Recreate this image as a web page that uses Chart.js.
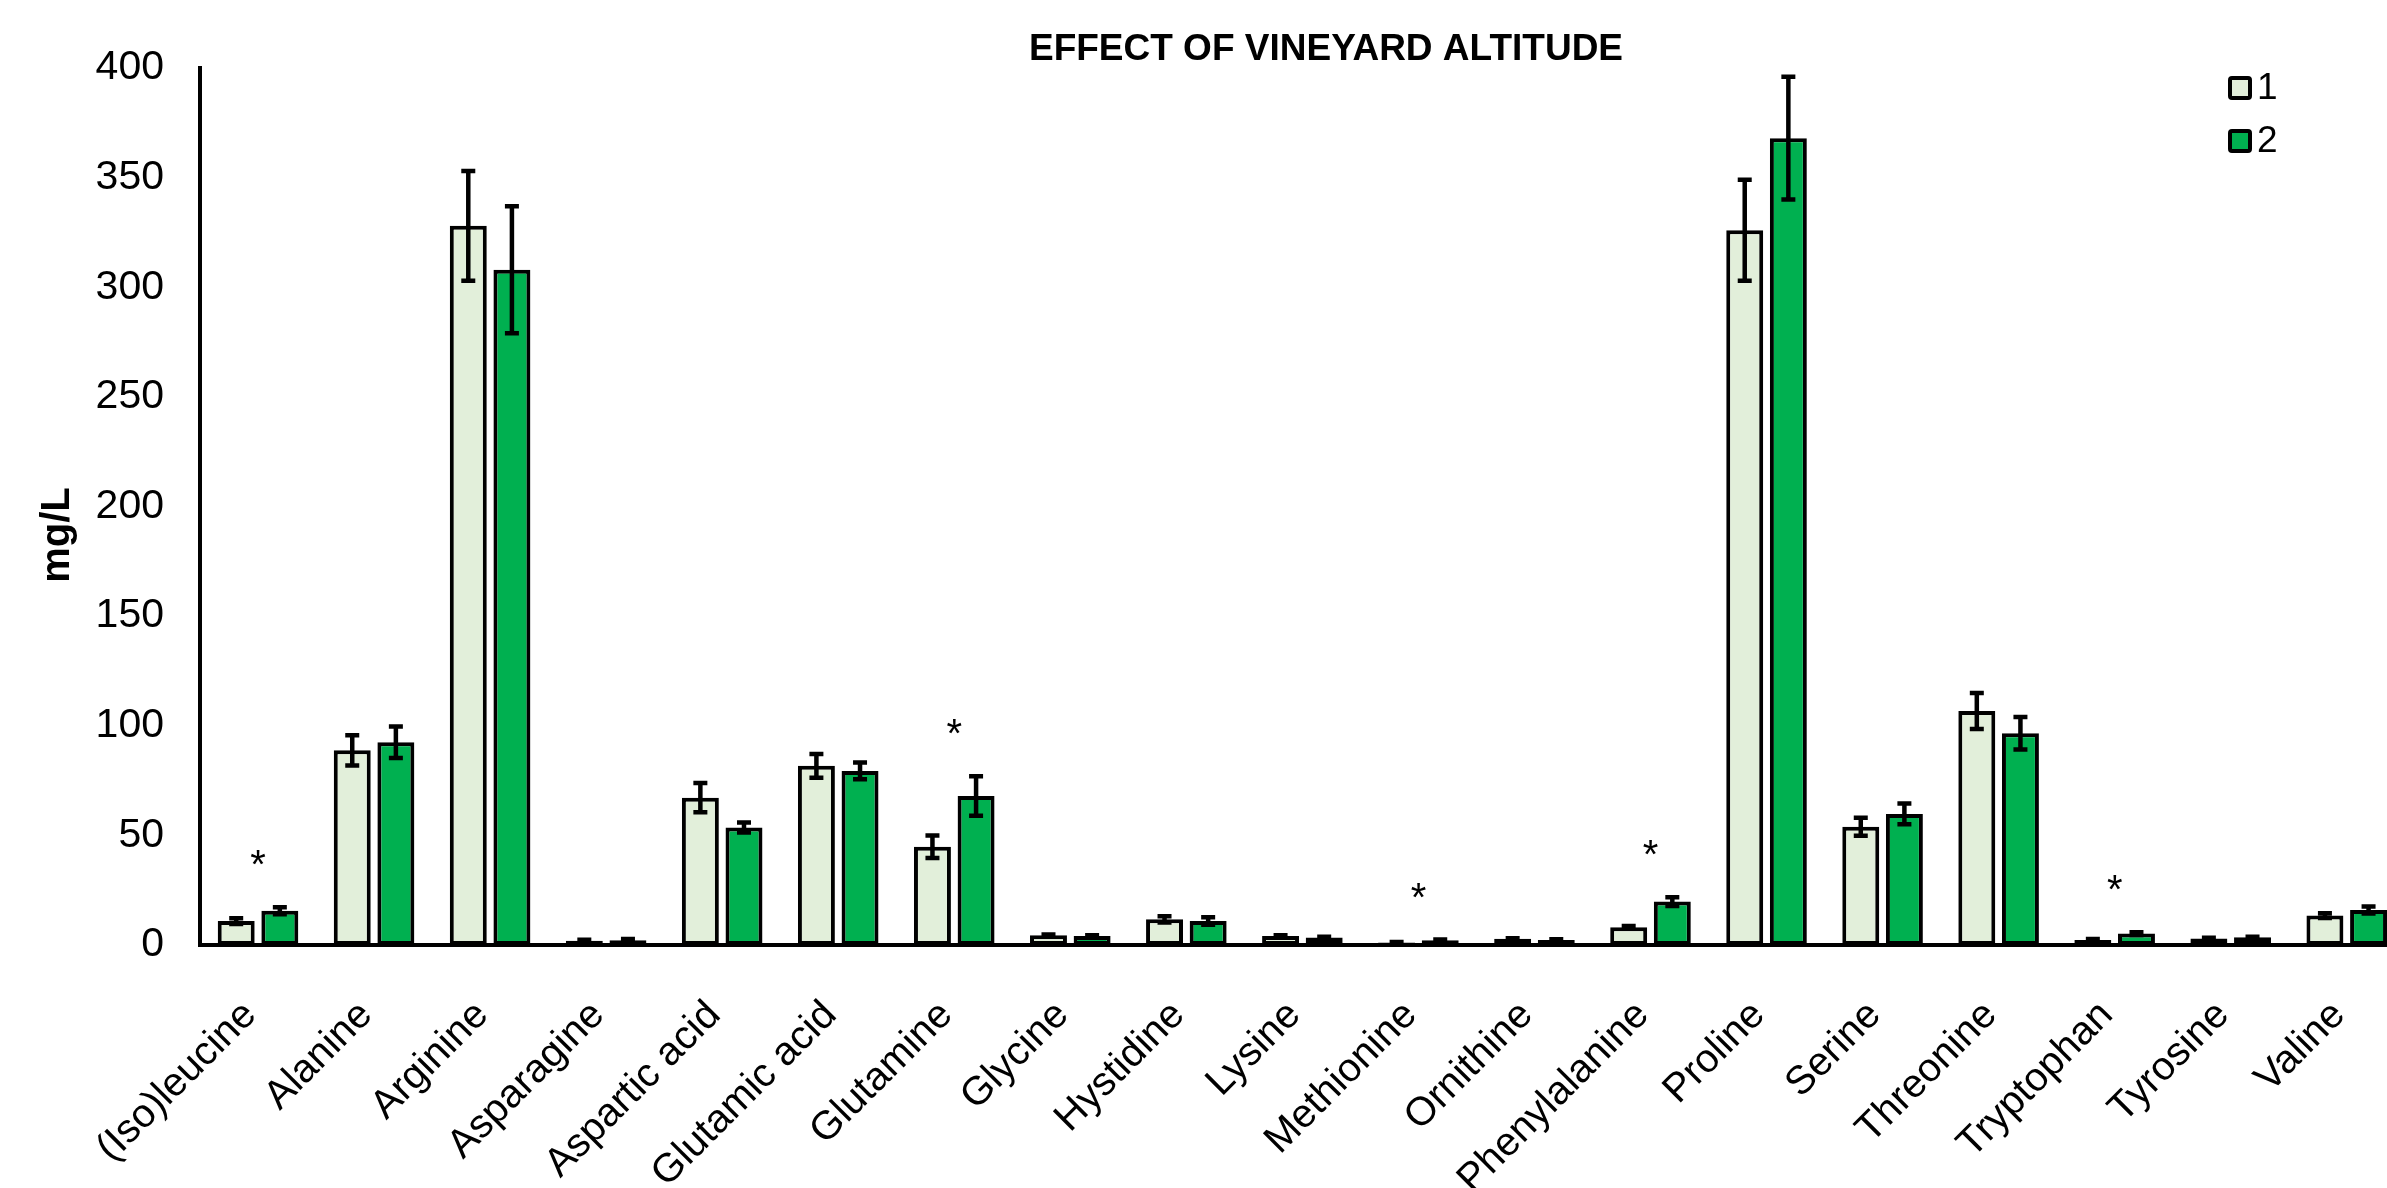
<!DOCTYPE html>
<html>
<head>
<meta charset="utf-8">
<script src="https://cdn.jsdelivr.net/npm/chart.js@4/dist/chart.umd.min.js"></script>
<style>
  html, body { margin: 0; padding: 0; overflow: hidden; background: #ffffff; }
  canvas { display: block; }
</style>
</head>
<body>
<canvas id="chart" width="2420" height="1188"></canvas>
<script>
// Amino acid concentrations (mg/L) for the two vineyard altitudes
const categories = [
  '(Iso)leucine', 'Alanine', 'Arginine', 'Asparagine', 'Aspartic acid',
  'Glutamic acid', 'Glutamine', 'Glycine', 'Hystidine', 'Lysine',
  'Methionine', 'Ornithine', 'Phenylalanine', 'Proline', 'Serine',
  'Threonine', 'Tryptophan', 'Tyrosine', 'Valine'
];
const seriesLabels = ['1', '2'];
const altitude1 = [10.9, 88.8, 328, 1.9, 67.2, 81.7, 44.8, 4.4, 11.7, 4.1, 1.1, 2.8, 8.1, 326, 53.9, 106.7, 2.3, 3.0, 13.4];
const altitude2 = [15.6, 92.5, 308, 2.2, 53.6, 79.4, 68.0, 4.1, 10.9, 3.4, 2.2, 2.3, 19.8, 368, 59.8, 96.6, 5.2, 3.5, 16.0];
const sd1 = [1.3, 6.9, 25, 0.5, 6.7, 5.4, 5.1, 0.4, 1.4, 0.4, 0.3, 0.3, 0.6, 23, 4.1, 8.2, 0.4, 0.3, 1.1];
const sd2 = [1.6, 7.2, 29, 0.5, 2.3, 3.8, 9.0, 0.4, 1.7, 0.4, 0.3, 0.3, 2.0, 28, 4.7, 7.4, 0.6, 0.3, 1.6];
// Amino acids with a significant difference between altitudes
const significant = ['(Iso)leucine', 'Glutamine', 'Methionine', 'Phenylalanine', 'Tryptophan'];
const yMin = 0, yMax = 400, yStep = 50;
const chartTitle = 'EFFECT OF VINEYARD ALTITUDE';
const yAxisTitle = 'mg/L';

const FONT = "'Liberation Sans', Arial, Helvetica, sans-serif";
const LIGHT = '#E2EFDA';
const GREEN = '#00B050';

// Vertical error bars (± SD) on top of each bar
const errorBars = {
  id: 'errorBars',
  afterDatasetsDraw(chart) {
    const ctx = chart.ctx;
    const y = chart.scales.y;
    ctx.save();
    ctx.strokeStyle = '#000';
    ctx.lineWidth = 4.5;
    chart.data.datasets.forEach((ds, di) => {
      chart.getDatasetMeta(di).data.forEach((bar, i) => {
        const v = ds.data[i], e = ds.errors[i];
        const x = bar.x;
        const yt = y.getPixelForValue(v + e);
        const yb = y.getPixelForValue(v - e);
        ctx.beginPath();
        ctx.moveTo(x, yt); ctx.lineTo(x, yb);
        ctx.moveTo(x - 7, yt); ctx.lineTo(x + 7, yt);
        ctx.moveTo(x - 7, yb); ctx.lineTo(x + 7, yb);
        ctx.stroke();
      });
    });
    ctx.restore();
  }
};

// Asterisks above significantly different pairs
const significance = {
  id: 'significance',
  afterDatasetsDraw(chart) {
    const ctx = chart.ctx;
    const x = chart.scales.x, y = chart.scales.y;
    ctx.save();
    ctx.fillStyle = '#000';
    ctx.font = '40px ' + FONT;
    ctx.textAlign = 'center';
    ctx.textBaseline = 'alphabetic';
    significant.forEach(name => {
      const i = categories.indexOf(name);
      const top = Math.max(...chart.data.datasets.map(ds => ds.data[i] + ds.errors[i]));
      ctx.fillText('*', x.getPixelForValue(i), y.getPixelForValue(top) - 29);
    });
    ctx.restore();
  }
};

// Chart title, vertical axis title and legend
const annotations = {
  id: 'annotations',
  afterDraw(chart) {
    const ctx = chart.ctx;
    ctx.save();
    ctx.fillStyle = '#000';
    ctx.textAlign = 'center';
    ctx.textBaseline = 'middle';
    ctx.font = 'bold 37px ' + FONT;
    ctx.fillText(chartTitle, 1326, 50);

    ctx.save();
    ctx.translate(58, 535);
    ctx.rotate(-Math.PI / 2);
    ctx.font = 'bold 40px ' + FONT;
    ctx.fillText(yAxisTitle, 0, 0);
    ctx.restore();

    ctx.font = '37px ' + FONT;
    ctx.textAlign = 'left';
    chart.data.datasets.forEach((ds, i) => {
      const cy = 88 + i * 53;
      ctx.fillStyle = ds.backgroundColor;
      ctx.strokeStyle = '#000';
      ctx.lineWidth = 4;
      ctx.beginPath();
      ctx.roundRect(2230, cy - 10, 20, 20, 2);
      ctx.fill();
      ctx.stroke();
      ctx.fillStyle = '#000';
      ctx.fillText(ds.label, 2257, cy + 1);
    });
    ctx.restore();
  }
};

const tickFont = { family: FONT, size: 40 };

new Chart(document.getElementById('chart'), {
  type: 'bar',
  data: {
    labels: categories,
    datasets: [
      { label: seriesLabels[0], data: altitude1, errors: sd1, backgroundColor: LIGHT,
        borderColor: '#000', borderWidth: 4, borderSkipped: false },
      { label: seriesLabels[1], data: altitude2, errors: sd2, backgroundColor: GREEN,
        borderColor: '#000', borderWidth: 4, borderSkipped: false }
    ]
  },
  options: {
    responsive: false,
    animation: false,
    categoryPercentage: 0.752,
    barPercentage: 0.847,
    layout: { padding: { left: 0, right: 12, top: 68, bottom: 0 } },
    plugins: {
      legend: { display: false },
      tooltip: { enabled: false },
      title: { display: false }
    },
    scales: {
      x: {
        grid: { display: false, drawTicks: false },
        border: { display: true, color: '#000', width: 4 },
        ticks: {
          autoSkip: false,
          minRotation: 45,
          maxRotation: 45,
          padding: 39,
          color: '#000',
          font: tickFont,
          callback: (v, i) => categories[i] + ' '
        },
        afterFit(scale) { scale.height = 243; }
      },
      y: {
        min: yMin,
        max: yMax,
        grid: { display: false, drawTicks: false },
        border: { display: true, color: '#000', width: 4 },
        ticks: { stepSize: yStep, padding: 36, color: '#000', font: { family: FONT, size: 41 } },
        afterFit(scale) { scale.width = 200; }
      }
    }
  },
  plugins: [errorBars, significance, annotations]
});
</script>
</body>
</html>
